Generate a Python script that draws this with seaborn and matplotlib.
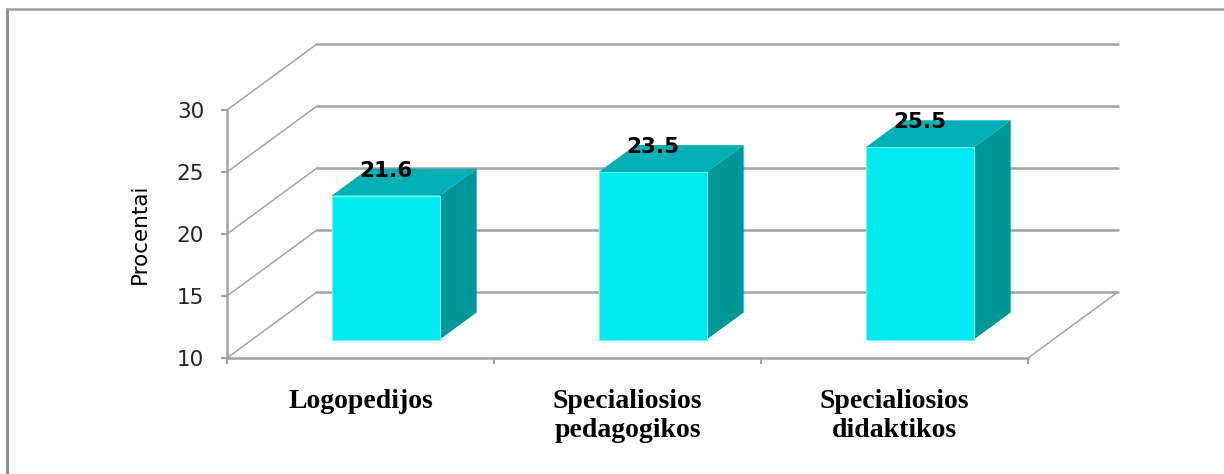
import matplotlib
matplotlib.use("Agg")
import matplotlib.pyplot as plt
from matplotlib.patches import Polygon
from matplotlib.lines import Line2D
import pandas as pd
import seaborn as sns

# ---- data -------------------------------------------------------------
categories = ["Logopedijos", "Specialiosios\npedagogikos", "Specialiosios\ndidaktikos"]
values = [21.6, 23.5, 25.5]
y_ticks = [10, 15, 20, 25, 30]
y_label = "Procentai"

# ---- style ------------------------------------------------------------
sns.set_theme(style="white")
plt.rcParams["font.family"] = ["DejaVu Sans"]

FRONT = "#00EAF0"
TOP = "#00B0B4"
SIDE = "#009798"
EDGE_LIGHT = "#5CFFFF"
GRID = "#a3a3a3"
TEXT = "#262626"

# oblique depth of the floor (in data units) and bar depth placement
DX, DY = 0.337, 5.32
BAR_FRONT, BAR_BACK = 0.28, 0.69
BAR_WIDTH = 0.405

W, H = 1224, 474
fig = plt.figure(figsize=(W / 100, H / 100), dpi=100)
fig.patch.set_facecolor("white")
ax = fig.add_axes([227 / W, 116 / H, 801 / W, 248 / H])
ax.set_facecolor("none")

ymin, ymax = y_ticks[0], y_ticks[-1]

# ---- bars (front faces) -----------------------------------------------
df = pd.DataFrame({"kategorija": categories, "procentai": values})
sns.barplot(data=df, x="kategorija", y="procentai", width=BAR_WIDTH,
            color=FRONT, saturation=1, ax=ax, zorder=4,
            edgecolor=EDGE_LIGHT, linewidth=0.8)
ax.set_xlim(-0.5, len(categories) - 0.5)
ax.set_ylim(ymin, ymax)

# ---- walls and floor --------------------------------------------------
x0, x1 = -0.5, len(categories) - 0.5
for t in y_ticks:
    ax.add_line(Line2D([x0 + DX, x1 + DX], [t + DY, t + DY], color=GRID,
                       lw=1.8, clip_on=False, zorder=1))
    ax.add_line(Line2D([x0, x0 + DX], [t, t + DY], color=GRID,
                       lw=1.1, clip_on=False, zorder=1))
ax.add_line(Line2D([x1, x1 + DX], [ymin, ymin + DY], color=GRID,
                   lw=1.1, clip_on=False, zorder=1))

# ---- 3D bar faces -----------------------------------------------------
ox, oy = BAR_FRONT * DX, BAR_FRONT * DY
ddx, ddy = (BAR_BACK - BAR_FRONT) * DX, (BAR_BACK - BAR_FRONT) * DY
for patch, v in zip(ax.patches[:len(values)], values):
    left = patch.get_x() + ox
    patch.set_x(left)
    patch.set_y(ymin + oy)
    patch.set_height(v - ymin)
    right = left + patch.get_width()
    bottom, top = ymin + oy, v + oy
    side = Polygon([(right, bottom), (right, top), (right + ddx, top + ddy),
                    (right + ddx, bottom + ddy)], closed=True,
                   facecolor=SIDE, edgecolor="none", zorder=3, clip_on=False)
    lid = Polygon([(left, top), (right, top), (right + ddx, top + ddy),
                   (left + ddx, top + ddy)], closed=True,
                  facecolor=TOP, edgecolor="none", zorder=3, clip_on=False)
    ax.add_patch(side)
    ax.add_patch(lid)
    ax.text(left + patch.get_width() / 2, top + ddy - 0.15, f"{v:.1f}",
            ha="center", va="center", fontsize=15.5, fontweight="bold",
            color="black", zorder=6, clip_on=False)

# ---- axes -------------------------------------------------------------
for s in ["top", "right"]:
    ax.spines[s].set_visible(False)
for s in ["left", "bottom"]:
    ax.spines[s].set_color(GRID)
    ax.spines[s].set_linewidth(1.8)
    ax.spines[s].set_zorder(2)

ax.set_yticks(y_ticks)
ax.set_yticklabels([str(t) for t in y_ticks])
ax.tick_params(axis="y", direction="out", length=4.5, width=1.5,
               color=GRID, pad=12, labelsize=15.5, labelcolor=TEXT, left=True)

ax.set_xticks(range(len(categories)))
ax.set_xticklabels(categories, fontfamily="Liberation Serif",
                   fontweight="bold", fontsize=20, color="black",
                   linespacing=1.25)
ax.set_xticks([i - 0.5 for i in range(len(categories) + 1)], minor=True)
ax.tick_params(axis="x", which="major", length=0, pad=22)
ax.tick_params(axis="x", which="minor", direction="out", length=4.5,
               width=1.5, color=GRID, bottom=True)

ax.set_xlabel("")
ax.set_ylabel(y_label, fontsize=15.5, color="black", labelpad=19)

# ---- outer frame ------------------------------------------------------
fig.add_artist(Line2D([7 / W, 7 / W], [0, 1 - 9 / H], transform=fig.transFigure,
                      color="#8f8f8f", lw=2.2))
fig.add_artist(Line2D([7 / W, 1], [1 - 9 / H, 1 - 9 / H], transform=fig.transFigure,
                      color="#a0a0a0", lw=1.8))

fig.savefig("out.png", dpi=100, facecolor="white")
